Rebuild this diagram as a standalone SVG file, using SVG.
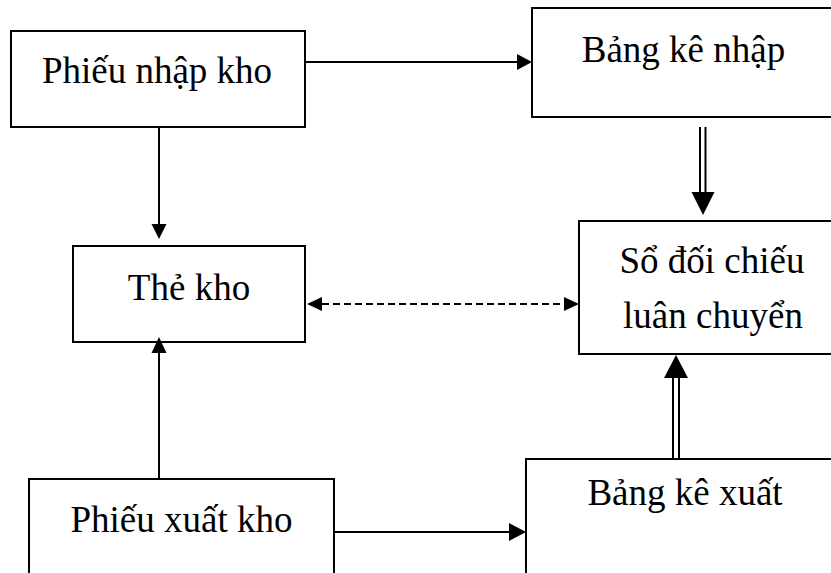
<svg xmlns="http://www.w3.org/2000/svg" width="831" height="573" viewBox="0 0 831 573">
<style>
.box{fill:#fff;stroke:#000;stroke-width:2}
.lbl{font-family:"Liberation Serif","Times New Roman",serif;font-size:37px;fill:#000;text-anchor:middle}
.ln{stroke:#000;stroke-width:2;fill:none}
.dl{stroke:#000;stroke-width:2;fill:none}
.dash{stroke:#000;stroke-width:2;fill:none;stroke-dasharray:7 4}
.hd{fill:#000;stroke:none}
</style>
<rect width="831" height="573" fill="#fff"/>
<g id="phieu-nhap-kho">
<rect class="box" x="11" y="31" width="294" height="96"/>
<text class="lbl" x="157" y="83">Phiếu nhập kho</text>
</g>
<g id="bang-ke-nhap">
<rect class="box" x="532" y="8" width="320" height="109"/>
<text class="lbl" x="683.5" y="62">Bảng kê nhập</text>
</g>
<g id="the-kho">
<rect class="box" x="73" y="246" width="232" height="96"/>
<text class="lbl" x="189" y="300">Thẻ kho</text>
</g>
<g id="so-doi-chieu">
<rect class="box" x="579" y="221" width="280" height="133"/>
<text class="lbl" x="712" y="273">Sổ đối chiếu</text>
<text class="lbl" x="713" y="328">luân chuyển</text>
</g>
<g id="phieu-xuat-kho">
<rect class="box" x="29" y="479" width="305" height="110"/>
<text class="lbl" x="181.5" y="532">Phiếu xuất kho</text>
</g>
<g id="bang-ke-xuat">
<rect class="box" x="526" y="459" width="330" height="130"/>
<text class="lbl" x="685" y="505">Bảng kê xuất</text>
</g>
<g id="connectors">
<line class="ln" x1="305" y1="62" x2="518" y2="62"/>
<polygon class="hd" points="532,62 517,54 517,70"/>
<line class="ln" x1="159" y1="127" x2="159" y2="225"/>
<polygon class="hd" points="159,239 151.5,224 166.5,224"/>
<line class="ln" x1="159" y1="479" x2="159" y2="352"/>
<polygon class="hd" points="159,337 151.5,353 166.5,353"/>
<line class="ln" x1="334" y1="532" x2="510" y2="532"/>
<polygon class="hd" points="526,532 509,523 509,541"/>
<line class="dash" x1="322" y1="304" x2="564" y2="304"/>
<polygon class="hd" points="307,304 322,297 322,311"/>
<polygon class="hd" points="579,304 564,297 564,311"/>
<line class="dl" x1="700" y1="127" x2="700" y2="193"/>
<line class="dl" x1="705.5" y1="127" x2="705.5" y2="193"/>
<polygon class="hd" points="703,215 691.5,192 714.5,192"/>
<line class="dl" x1="673" y1="459" x2="673" y2="377"/>
<line class="dl" x1="679" y1="459" x2="679" y2="377"/>
<polygon class="hd" points="676,355 664,378 688,378"/>
</g>
</svg>
